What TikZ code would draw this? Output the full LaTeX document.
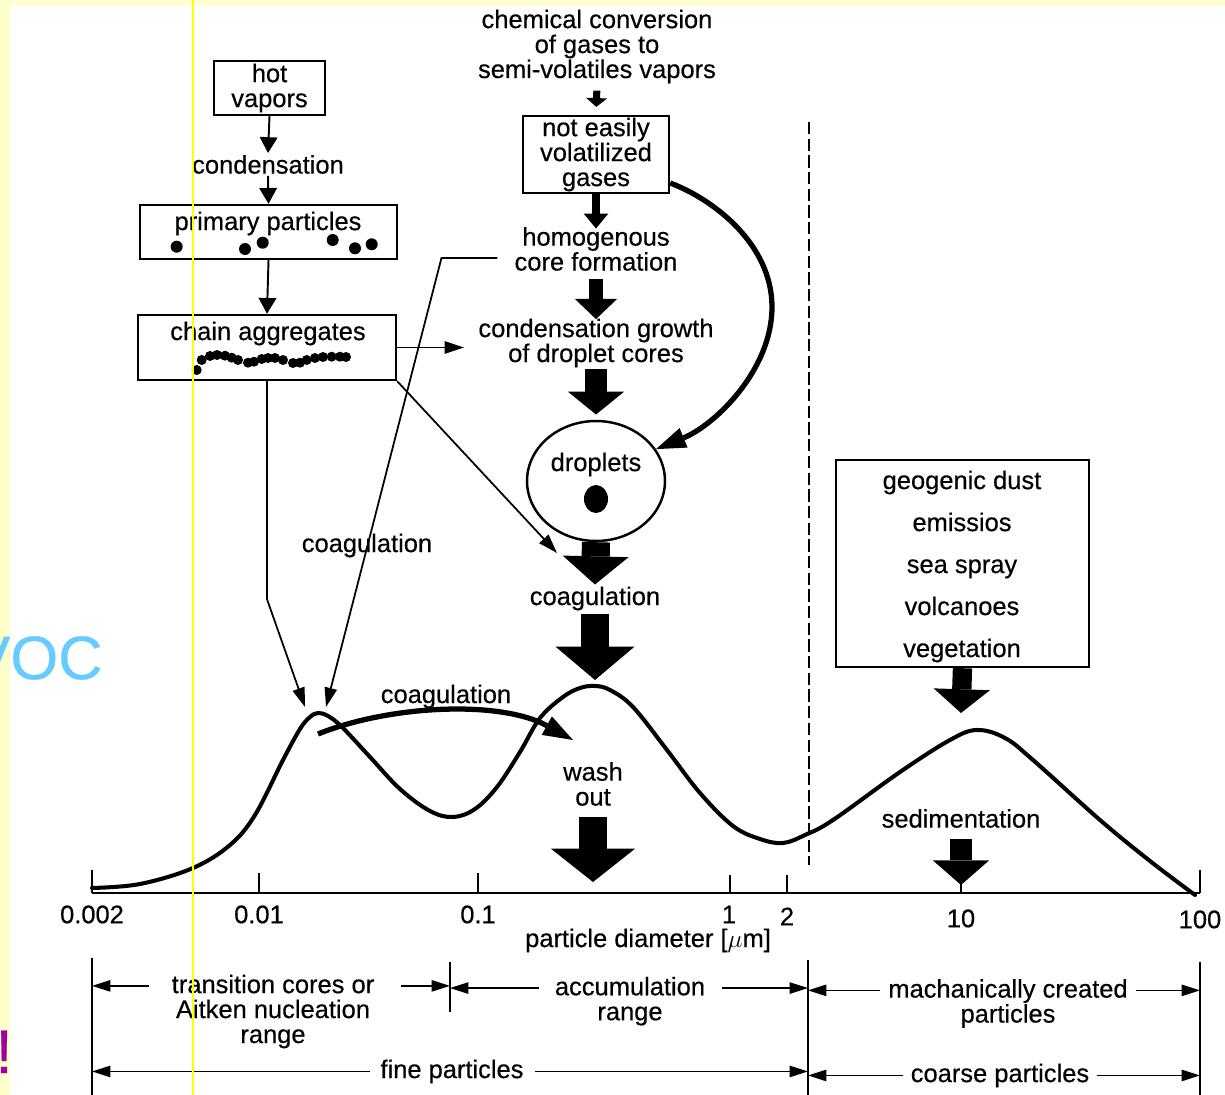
\documentclass[tikz,border=0pt]{standalone}
\usepackage{fontspec}
\setmainfont{Liberation Sans}[FakeBold=0.4]
\usetikzlibrary{arrows.meta,positioning,shapes.geometric}
\definecolor{slideBg}{RGB}{255,255,204}
\definecolor{slideLine}{RGB}{255,255,0}
\definecolor{vocBlue}{RGB}{102,204,255}
\definecolor{bangPurple}{RGB}{160,0,160}
\tikzset{
  lbl/.style={font=\fontsize{14.5}{14.2}\selectfont, align=center, inner sep=1pt},
  txt/.style={lbl, yshift=-1.4pt},
  srcbox/.style={draw, line width=1.4pt, lbl, inner sep=0pt},
  tarr/.style={line width=1.1pt, -{Triangle[length=9pt,width=10pt]}},
  thinarr/.style={line width=1pt, -{Triangle[length=11pt,width=7pt]}},
  dimarr/.style={line width=0.8pt, -{Triangle[length=10.5pt,width=6.5pt]}},
  blk/.style n args={3}{line width=#1, -{Triangle[length=#3,width=#2,line width=0pt]}},
  fatcurve/.style={line width=3pt, -{Triangle[length=17pt,width=12pt,line width=0pt]}},
  dist/.style={line width=2.3pt, line join=round, line cap=round},
  axisln/.style={line width=1.1pt},
  rangeln/.style={line width=1.1pt},
}
\begin{document}
\begin{tikzpicture}[x=0.02cm, y=-0.02cm]
  \useasboundingbox (0,0) rectangle (1225,1095);
  % slide background
  \fill[white] (0,0) rectangle (1225,1095);
  \fill[slideBg] (0,0) rectangle (1225,5);
  \fill[slideBg] (0,0) rectangle (10,1095);

  % left column: hot vapors -> chain aggregates
  \node[srcbox, minimum width=2.22cm, minimum height=1.08cm] (hot) at (269.5,88) {hot\\vapors};
  \node[txt] (cond) at (268,162) {condensation};
  \node[srcbox, minimum width=5.14cm, minimum height=1.08cm] (prim) at (268.5,232) {};
  \node[txt] (primtxt) at (268,221) {primary particles};
  \foreach \x/\y in {176.7/246.7, 245/249, 262.7/242.7, 332.7/240, 355/248.3, 371.7/244.3}
    \fill (\x,\y) circle (6);
  \node[srcbox, minimum width=5.16cm, minimum height=1.3cm] (chain) at (267,347.5) {};
  \node[txt] (chaintxt) at (268,331) {chain aggregates};
  \foreach \x/\y in {196.7/370, 201.7/360, 210/356, 217/355, 225/355.7, 231.7/357.7, 238/360,
                     248/362.7, 254/361.7, 261.7/359, 268/358, 275/358, 283/360, 293/363,
                     300/362.7, 306.7/360, 315/358, 323/357, 331.7/356.7, 340/356.7, 346/357}
    \fill (\x,\y) circle (5);

  \draw[tarr] (hot.south) -- (cond.north);
  \draw[tarr] (cond.south) -- (prim.north);
  \draw[tarr] (prim.south) -- (chain.north);

  % middle column: gases -> droplets
  \node[txt] (chem) at (597,44) {chemical conversion\\of gases to\\semi-volatiles vapors};
  \node[srcbox, minimum width=2.92cm, minimum height=1.54cm] (gases) at (596,154.5) {not easily\\volatilized\\gases};
  \node[txt] (homog) at (596,246.5) {homogenous\\core formation};
  \node[txt] (growth) at (596,340.5) {condensation growth\\of droplet cores};
  \node[draw, ellipse, line width=1.4pt, minimum width=2.76cm, minimum height=2.4cm, inner sep=0pt] (drop) at (596,481) {};
  \node[txt] (droptxt) at (596,462) {droplets};
  \fill (596,499) ellipse [x radius=12, y radius=14];
  \node[txt] (coag2) at (595,596) {coagulation};

  \draw[blk={4pt}{12pt}{5pt}, shorten <=3pt, shorten >=4.5pt] (chem.south) -- (gases.north);
  \draw[blk={5pt}{14pt}{8.5pt}, shorten >=-2pt] (gases.south) -- (homog.north);
  \draw[blk={8.5pt}{24pt}{11.5pt}, shorten <=3.5pt, shorten >=-1.5pt] (homog.south) -- (growth.north);
  \draw[blk={12pt}{32pt}{13pt}, shorten >=3pt] (growth.south) -- (drop.north);
  \draw[blk={16pt}{37.5pt}{16pt}] (drop.south) -- (coag2.north);

  % right: sources of coarse particles
  \node[srcbox, minimum width=5.06cm, minimum height=4.14cm] (geo) at (962.5,563.5) {};
  \node[txt, font=\fontsize{14.5}{23.9}\selectfont] (geotxt) at (962,564)
    {geogenic dust\\emissios\\sea spray\\volcanoes\\vegetation};
  \draw[line width=1.3pt, dash pattern=on 7pt off 2.5pt] (809,122) -- (809,865);

  % sinks and other labels
  \node[txt] (coag1) at (367,543) {coagulation};
  \node[txt] (coag3) at (446,694) {coagulation};
  \node[txt] (wash) at (593,781.5) {wash\\out};
  \node[txt] (sedi) at (961,816) {sedimentation};

  \coordinate (nucA) at (305,707);
  \coordinate (nucB) at (326,707);
  \coordinate (coagin) at (557,553);
  \coordinate (peakB) at (595,680);
  \coordinate (peakC) at (961,713);
  \coordinate (washend) at (593,882);
  \coordinate (tick10) at (961,885);
  \coordinate (coagstart) at (318,734);
  \coordinate (coagtip) at (573,740);

  \draw[thinarr, shorten >=7pt] (chain.east) -- (chain.east -| growth.west);
  \draw[thinarr] (chain.south east) -- (coagin);
  \draw[thinarr] (chain.south) -- ++(0,218) -- (nucA);
  \draw[thinarr] (homog.west) ++(-15,9) -- ++(-56,0) -- (nucB);

  \draw[fatcurve] (gases.-21) .. controls (715,200) and (772,245) .. (772,307)
                  .. controls (772,370) and (715,425) .. (drop.28);

  \draw[blk={16pt}{45pt}{19pt}, shorten <=1pt] (coag2.south) -- (peakB);
  \draw[blk={11pt}{32pt}{13.5pt}] (geo.south) -- (peakC);
  \draw[blk={16.5pt}{48pt}{19pt}, shorten <=5pt] (wash.south) -- (washend);
  \draw[blk={12pt}{32pt}{14pt}, shorten <=5pt] (sedi.south) -- (tick10);

  % size distribution
  \draw[dist] plot[smooth, tension=0.6] coordinates {(92,888) (140,884) (193,868) (230,845)
    (255,815) (283,760) (300,729) (310,717) (318,713) (328,716) (342,727) (370,757) (400,789)
    (430,811) (453,817) (475,809) (497,787) (520,752) (540,718) (563,697) (580,688) (595,686)
    (610,690) (633,707) (667,750) (700,793) (733,826) (760,839) (783,843) (805,835) (833,820)
    (900,772) (950,740) (977,730) (1005,738) (1033,760) (1100,820) (1150,861) (1195,895)};
  \draw[fatcurve] (coagstart) .. controls (390,705) and (500,700) .. (coagtip);

  % axis
  \draw[axisln] (92,893) -- (1200,893);
  \foreach \x/\t in {92/870, 259/873, 478/873, 730/875, 787/875, 961/875, 1200/870}
    \draw[axisln] (\x,893) -- (\x,\t);
  \foreach \x/\y/\t [count=\i] in {92/912/0.002, 259/912/0.01, 478/912/0.1, 729/912/1,
                                   787/914/2, 961/916/10, 1200/917/100}
    \node[txt] (tick\i) at (\x,\y) {\t};
  \node[txt] (xlab) at (648,938) {particle diameter [$\mu$m]};

  % size ranges
  \coordinate (rL) at (92,958);
  \coordinate (rM) at (450,962);
  \coordinate (rC) at (808,960);
  \coordinate (rR) at (1200,962);
  \draw[rangeln] (rL) -- (92,1095);
  \draw[rangeln] (rM) -- (450,1012);
  \draw[rangeln] (rC) -- (808,1095);
  \draw[rangeln] (rR) -- (1200,1095);

  \node[txt] (aitken) at (273,1009) {transition cores or\\Aitken nucleation\\range};
  \node[txt] (accum) at (630,998.7) {accumulation\\range};
  \node[txt] (mech) at (1008,1001) {machanically created\\particles};
  \node[txt] (fine) at (452,1069) {fine particles};
  \node[txt] (coarse) at (1000,1073) {coarse particles};

  \coordinate (aitkenL) at ([yshift=-7.6pt]aitken.north west);
  \coordinate (aitkenR) at ([yshift=-7.6pt]aitken.north east);
  \coordinate (accumL) at ([yshift=-7.6pt]accum.north west);
  \coordinate (accumR) at ([yshift=-7.6pt]accum.north east);
  \coordinate (mechL) at ([yshift=-7.6pt]mech.north west);
  \coordinate (mechR) at ([yshift=-7.6pt]mech.north east);

  \draw[dimarr, shorten <=12pt] (aitkenL) -- (aitkenL -| rL);
  \draw[dimarr, shorten <=14pt] (aitkenR) -- (aitkenR -| rM);
  \draw[dimarr, shorten <=8pt] (accumL) -- (accumL -| rM);
  \draw[dimarr, shorten <=8.5pt] (accumR) -- (accumR -| rC);
  \draw[dimarr, shorten <=3.5pt] (mechL) -- (mechL -| rC);
  \draw[dimarr, shorten <=3.5pt] (mechR) -- (mechR -| rR);
  \draw[dimarr, shorten <=5pt] (fine.west) -- (fine.west -| rL);
  \draw[dimarr, shorten <=5.5pt] (fine.east) -- (fine.east -| rC);
  \draw[dimarr, shorten <=3pt] (coarse.west) -- (coarse.west -| rC);
  \draw[dimarr, shorten <=3pt] (coarse.east) -- (coarse.east -| rR);

  % slide leftovers on top
  \draw[slideLine, line width=1.2pt] (193,0) -- (193,1095);
  \node[anchor=west, text=vocBlue, font=\fontsize{35}{35}\selectfont, inner sep=0pt] (voc) at (-31,658) {VOC};
  \node[anchor=base east, text=bangPurple, font=\fontsize{35}{35}\selectfont, inner sep=0pt] (bang) at (13,1073) {!};
\end{tikzpicture}
\end{document}
